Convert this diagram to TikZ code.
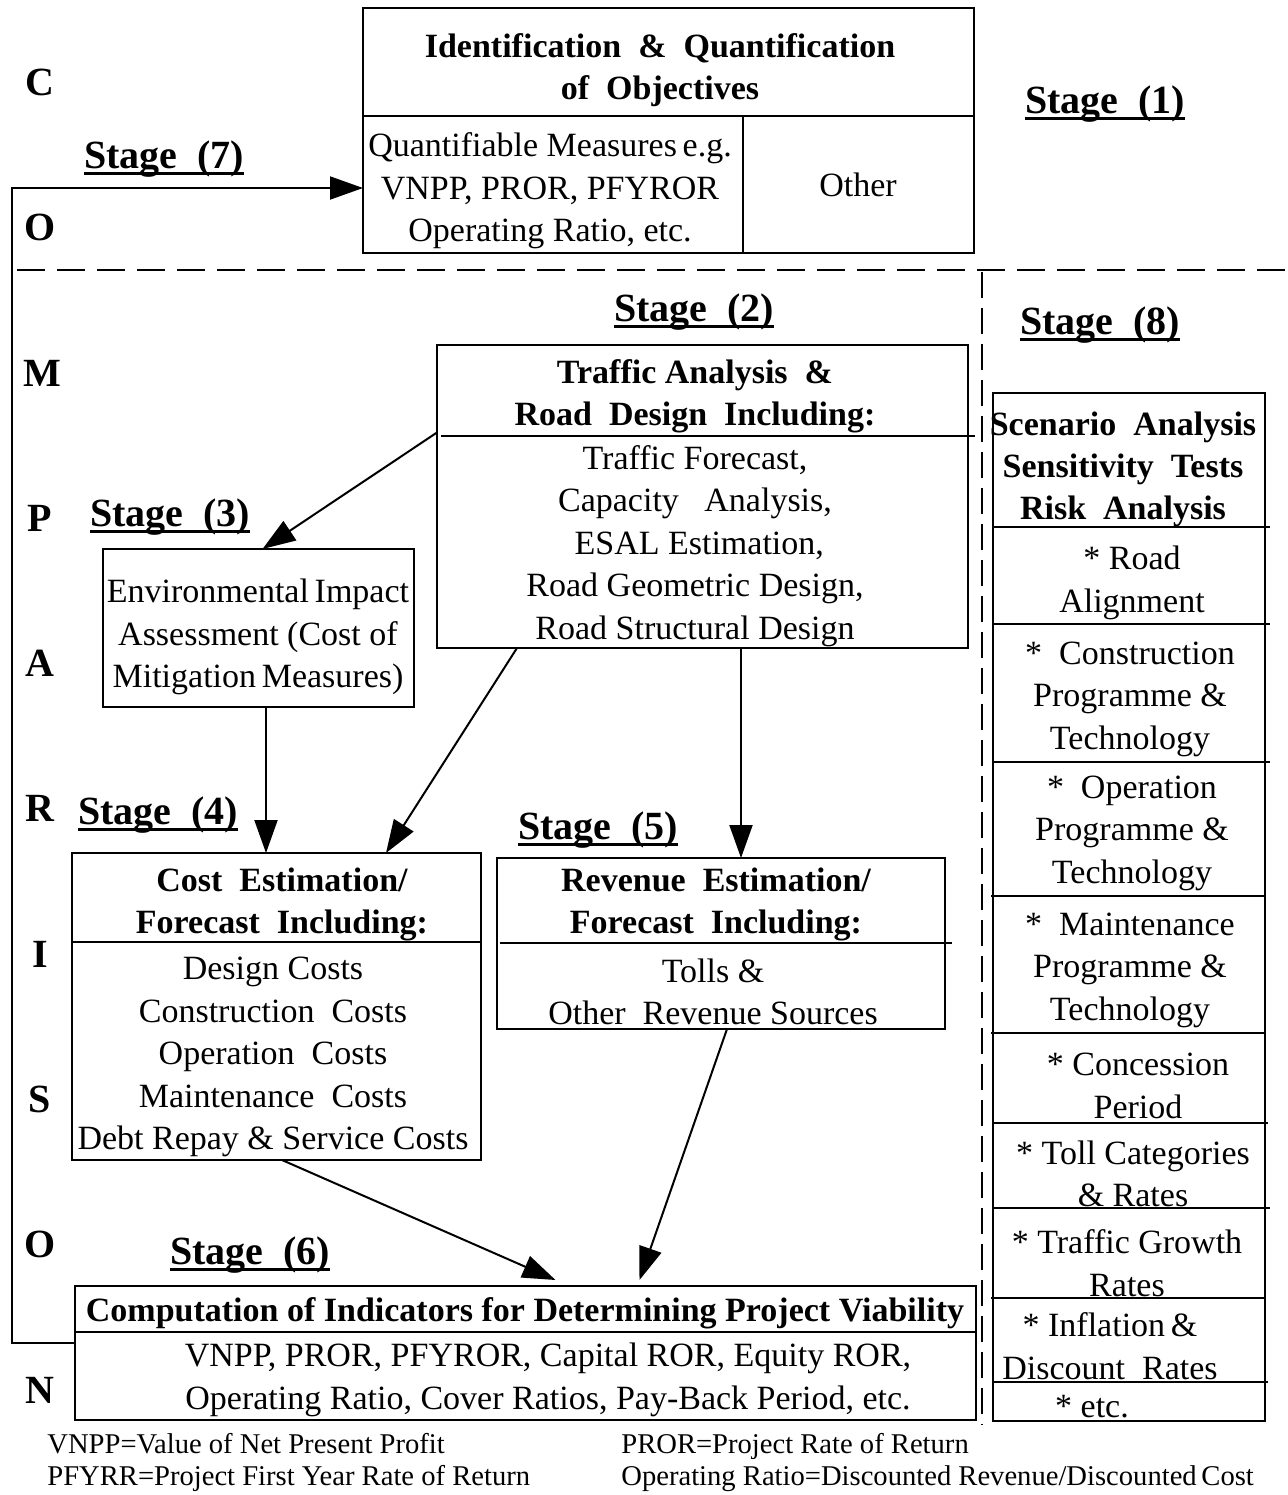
\documentclass[tikz,border=0pt]{standalone}
\usepackage{fontspec}
\setmainfont{Liberation Serif}
\usepackage{tikz}
\usetikzlibrary{calc, positioning, arrows.meta}
\tikzstyle{box}=[draw, shape=rectangle, line width=1.3pt, inner sep=0pt, outer sep=0pt]
\tikzstyle{txt}=[inner sep=0pt, align=center, font=\fontsize{17}{21.25}\selectfont]
\tikzstyle{head}=[inner sep=0pt, align=center, font=\fontsize{17}{21}\selectfont\bfseries]
\tikzstyle{stg}=[inner sep=0pt, anchor=base, font=\fontsize{20}{24}\selectfont\bfseries]
\tikzstyle{cmp}=[inner sep=0pt, anchor=base, font=\fontsize{20}{24}\selectfont\bfseries]
\tikzstyle{note}=[inner sep=0pt, anchor=west, align=left, font=\fontsize{14.3}{16}\selectfont]
\tikzstyle{arr}=[line width=1pt, -{Triangle[length=16.5pt, width=11.5pt]}]
\tikzstyle{div}=[line width=1pt]
\newcommand{\stageul}[1]{\setbox0\hbox{#1}\rlap{\rule[-3.5pt]{\wd0}{1.5pt}}\box0}

\begin{document}
\begin{tikzpicture}[x=0.5pt, y=-0.5pt]
\useasboundingbox (0,0) rectangle (1287,1495);
% boxes
\node[box, minimum width=305.5pt, minimum height=122.5pt] (obj) at (668.5,130.5) {};
\node[box, minimum width=265.5pt, minimum height=151.5pt] (s2) at (702.5,496.5) {};
\node[box, minimum width=155.5pt, minimum height=79pt] (s3) at (258.5,628) {};
\node[box, minimum width=204.5pt, minimum height=153.5pt] (s4) at (276.5,1006.5) {};
\node[box, minimum width=224pt, minimum height=85.5pt] (s5) at (721,943.5) {};
\node[box, minimum width=450.5pt, minimum height=67pt] (s6) at (525.5,1353) {};
\node[box, minimum width=136pt, minimum height=514pt] (s8) at (1129,907) {};
%
\draw[div] (363,116) -- (974,116);
\draw[div] (743,116) -- (743,253);
\draw[div] (441,436) -- (975,436);
\draw[div] (72,942) -- (481,942);
\draw[div] (500,943) -- (952,943);
\draw[div] (75,1332) -- (976,1332);
\draw[div] (993,527) -- (1270,527) (993,624) -- (1270,624) (993,762) -- (1270,762) (991,896) -- (1265,896) (991,1033) -- (1265,1033) (993,1123) -- (1268,1123) (993,1208) -- (1270,1208) (991,1298) -- (1265,1298) (993,1382) -- (1268,1382);
%
\draw[line width=1.4pt, dash pattern=on 14pt off 6pt] (17,270) -- (1287,270);
\draw[line width=1.4pt, dash pattern=on 13pt off 5pt] (982,272) -- (982,1425);
% texts
\node[head] (objh) at (660,70) {Identification\ \ \&\ \ Quantification\\of\ \ Objectives};
\node[txt] (objq) at (550,191) {Quantifiable Measures\,e.g.\\VNPP, PROR, PFYROR\\Operating Ratio, etc.};
\node[txt] (objo) at (858,185) {Other};
\node[head] (s2h) at (695,396) {Traffic Analysis\ \ \&\\Road\ \ Design\ \ Including:};
\node[txt] (s2b) at (695,546) {Traffic Forecast,\\Capacity\ \ \ Analysis,\\\ ESAL Estimation,\\Road Geometric Design,\\Road Structural Design};
\node[txt] (s3b) at (258,637) {Environmental\,Impact\\Assessment (Cost of\\Mitigation\,Measures)};
\node[head] (s4h) at (282,904) {Cost\ \ Estimation/\\Forecast\ \ Including:};
\node[txt] (s4b) at (273,1057) {Design Costs\\Construction\ \ Costs\\Operation\ \ Costs\\Maintenance\ \ Costs\\Debt Repay \& Service Costs};
\node[head] (s5h) at (716,904) {Revenue\ \ Estimation/\\Forecast\ \ Including:};
\node[txt] (s5b) at (713,992) {Tolls \&\\Other\ \ Revenue Sources};
\node[head] (s6h) at (525,1313) {Computation of Indicators for Determining Project Viability};
\node[txt] (s6b) at (548,1380) {VNPP, PROR, PFYROR, Capital ROR, Equity ROR,\\Operating Ratio, Cover Ratios, Pay-Back Period, etc.};
\node[head] (s8h) at (1123,469) {Scenario\ \ Analysis\\Sensitivity\ \ Tests\\Risk\ \ Analysis};
\node[txt] (s8a) at (1132,583) {* Road\\Alignment};
\node[txt] (s8b) at (1130,699) {*\ \ Construction\\Programme \&\\Technology};
\node[txt] (s8c) at (1132,833) {*\ \ Operation\\Programme \&\\Technology};
\node[txt] (s8d) at (1130,970) {*\ \ Maintenance\\Programme \&\\Technology};
\node[txt] (s8e) at (1138,1086) {* Concession\\Period};
\node[txt] (s8f) at (1133,1174) {* Toll Categories\\\& Rates};
\node[txt] (s8g) at (1127,1263) {* Traffic Growth\\Rates};
\node[txt] (s8h2) at (1110,1346) {* Inflation\,\&\\Discount\ \ Rates};
\node[txt] (s8i) at (1092,1407) {* etc.};
% stages
\node[stg] (st1) at (1105,113) {\stageul{Stage\ \ (1)}};
\node[stg] (st2) at (694,321) {\stageul{Stage\ \ (2)}};
\node[stg] (st3) at (170,526) {\stageul{Stage\ \ (3)}};
\node[stg] (st4) at (158,824) {\stageul{Stage\ \ (4)}};
\node[stg] (st5) at (598,839) {\stageul{Stage\ \ (5)}};
\node[stg] (st6) at (250,1264) {\stageul{Stage\ \ (6)}};
\node[stg] (st7) at (164,168) {\stageul{Stage\ \ (7)}};
\node[stg] (st8) at (1100,334) {\stageul{Stage\ \ (8)}};
% comparison
\node[cmp] (cC) at (40,95) {C};
\node[cmp] (cO1) at (40,240) {O};
\node[cmp] (cM) at (42,386) {M};
\node[cmp] (cP) at (40,531) {P};
\node[cmp] (cA) at (40,676) {A};
\node[cmp] (cR) at (40,821) {R};
\node[cmp] (cI) at (40,967) {I};
\node[cmp] (cS) at (40,1112) {S};
\node[cmp] (cO2) at (40,1257) {O};
\node[cmp] (cN) at (40,1403) {N};
%
\node[note] (nl) at (47,1462) {VNPP=Value of Net Present Profit\\PFYRR=Project First Year Rate of Return};
\node[note] (nr) at (621,1462) {PROR=Project Rate of Return\\Operating Ratio=Discounted Revenue/Discounted\,Cost};
% arrows
\coordinate (fb) at (12,1343);
\draw[arr] ([yshift=32pt]s2.west) -- ([xshift=2pt]s3.north);
\draw[arr] ([xshift=-92.75pt]s2.south) -- ([xshift=54.75pt]s4.north);
\draw[arr] ([xshift=19.25pt]s2.south) -- ([xshift=19.25pt]s2.south |- s5.north);
\draw[arr] ([xshift=3.75pt]s3.south) -- ([xshift=3.75pt]s3.south |- s4.north);
\draw[arr] ([xshift=2.75pt]s4.south) -- ([xshift=15pt, yshift=3pt]s6.north);
\draw[arr] ([xshift=3pt]s5.south) -- ([xshift=57pt, yshift=3pt]s6.north);
\draw[arr] ([yshift=5pt]s6.west) -- (fb) |- ([yshift=-28.75pt]obj.west);
\end{tikzpicture}
\end{document}
